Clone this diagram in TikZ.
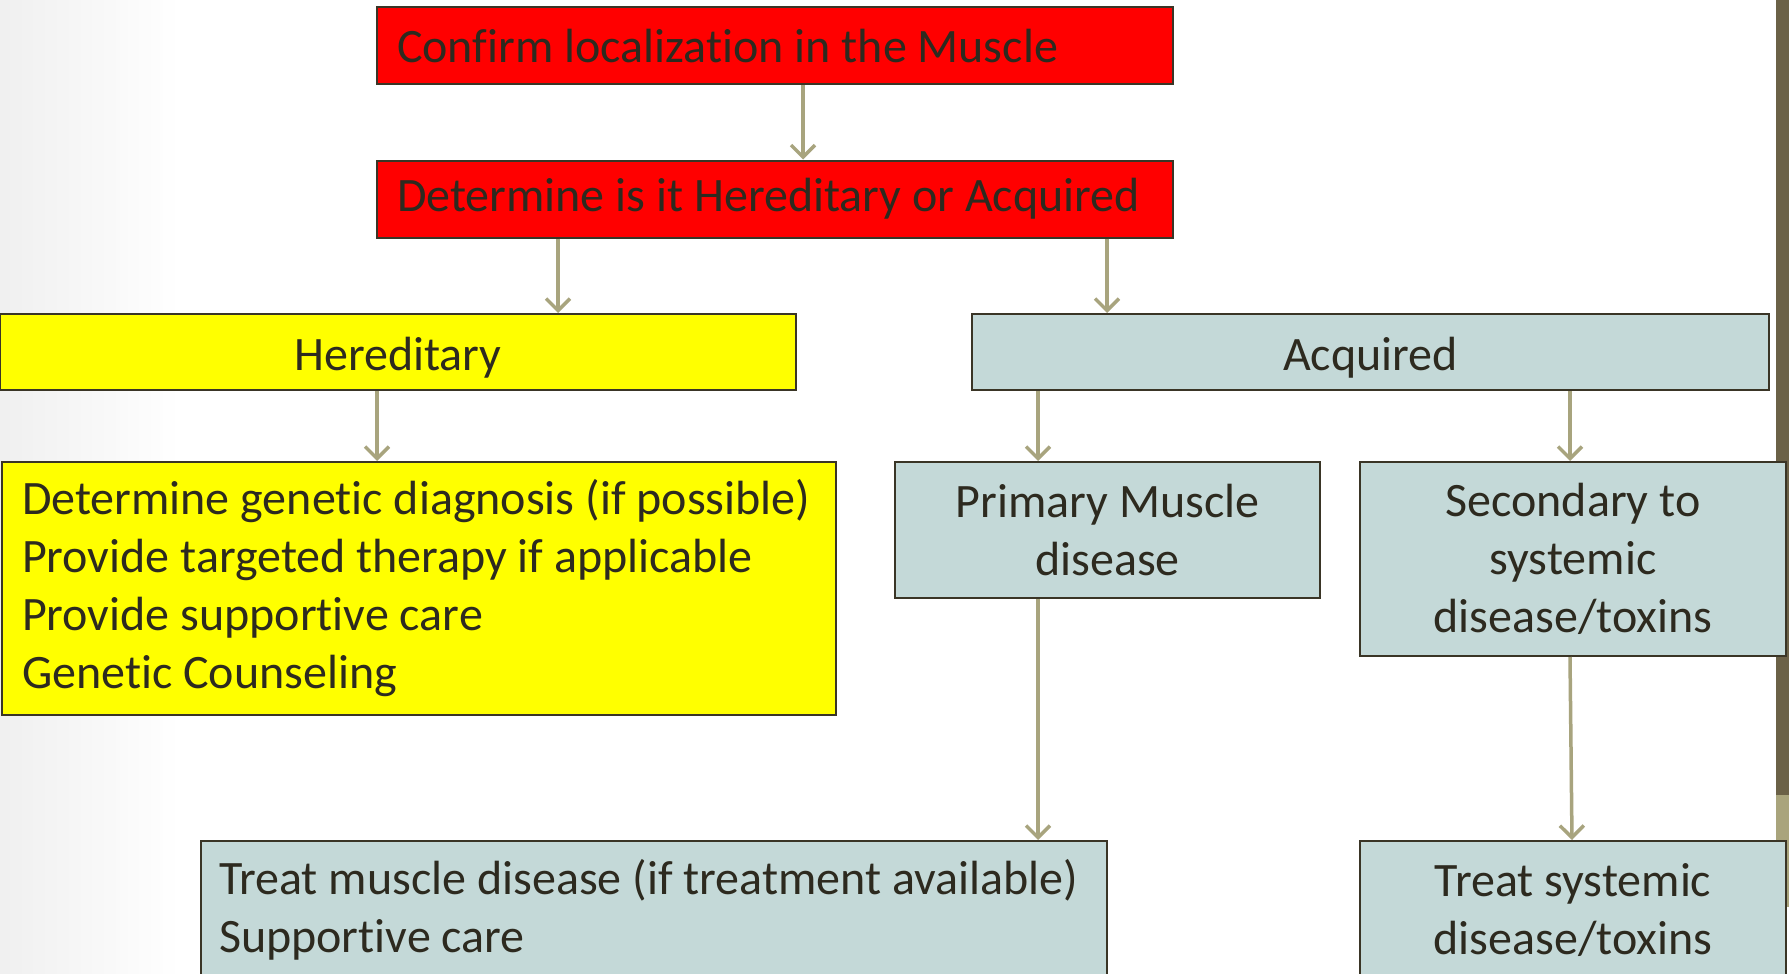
\documentclass[tikz,border=0pt]{standalone}
\usepackage{fontspec}
\setmainfont{Carlito}[Ligatures={NoCommon}]
\usetikzlibrary{arrows.meta}
\definecolor{boxred}{HTML}{FF0000}
\definecolor{boxyellow}{HTML}{FFFF00}
\definecolor{boxblue}{HTML}{C4D9D8}
\definecolor{boxline}{HTML}{3A3526}
\definecolor{arrowc}{HTML}{A8A47E}
\definecolor{txt}{HTML}{2D2A1F}
\definecolor{bardark}{HTML}{6B6147}
\definecolor{barlight}{HTML}{A9A47C}
\begin{document}
\begin{tikzpicture}[x=1pt,y=-1pt,
  box/.style={draw=boxline, line width=2pt, inner sep=0pt, text=txt,
    font=\fontsize{48}{58}\selectfont,
    execute at begin node={\spaceskip=0pt\xspaceskip=0pt\relax}},
  lowtext/.style={text height=46pt, text depth=10pt},
  arr/.style={draw=arrowc, line width=3.5pt, -{Straight Barb[length=12pt,width=24pt]}}]
\useasboundingbox (0,0) rectangle (1789,974);
\clip (0,0) rectangle (1789,974);
\fill[white] (0,0) rectangle (1789,974);
\shade[left color=black!6, right color=white] (0,0) rectangle (180,974);
\fill[bardark] (1776,0) rectangle (1789,795);
\fill[barlight] (1776,795) rectangle (1789,907);

\node[box, fill=boxred, minimum width=796pt, minimum height=77pt, text width=756pt, align=left]
  (confirm) at (775,46) {Confirm localization in the Muscle};
\node[box, fill=boxred, minimum width=796pt, minimum height=77pt, text width=756pt, align=left]
  (determine) at (775,199) {Determine is it Hereditary or Acquired};
\node[box, lowtext, fill=boxyellow, minimum width=796pt, minimum height=76pt, align=center]
  (hered) at (398,352) {Hereditary};
\node[box, lowtext, fill=boxblue, minimum width=797pt, minimum height=76pt, align=center]
  (acq) at (1370.5,352) {Acquired};
\node[box, fill=boxyellow, minimum width=834pt, minimum height=253pt, text width=794pt, align=left]
  (hcare) at (419,588.5) {Determine genetic diagnosis (if possible)\\Provide targeted therapy if applicable\\Provide supportive care\\Genetic Counseling};
\node[box, fill=boxblue, minimum width=425pt, minimum height=136pt, align=center]
  (primary) at (1107.5,530) {Primary Muscle\\disease};
\node[box, fill=boxblue, minimum width=426pt, minimum height=194pt, align=center]
  (second) at (1573,559) {Secondary to\\systemic\\disease/toxins};
\node[box, fill=boxblue, minimum width=906pt, minimum height=138pt, text width=870pt, align=left]
  (treatm) at (654,910) {Treat muscle disease (if treatment available)\\Supportive care};
\node[box, fill=boxblue, minimum width=426pt, minimum height=138pt, align=center]
  (treats) at (1573,910) {Treat systemic\\disease/toxins};

\coordinate (xa) at (803,0);
\coordinate (xb) at (558,0);
\coordinate (xc) at (1107,0);
\coordinate (xd) at (377,0);
\coordinate (xe) at (1038,0);
\coordinate (xf) at (1570,0);
\coordinate (xg) at (1572,0);

\draw[arr] (confirm.south -| xa) -- (determine.north -| xa);
\draw[arr] (determine.south -| xb) -- (hered.north -| xb);
\draw[arr] (determine.south -| xc) -- (acq.north -| xc);
\draw[arr] (hered.south -| xd) -- (hcare.north -| xd);
\draw[arr] (acq.south -| xe) -- (primary.north -| xe);
\draw[arr] (acq.south -| xf) -- (second.north -| xf);
\draw[arr] (primary.south -| xe) -- (treatm.north -| xe);
\draw[arr] (second.south -| xf) -- (treats.north -| xg);
\end{tikzpicture}
\end{document}
